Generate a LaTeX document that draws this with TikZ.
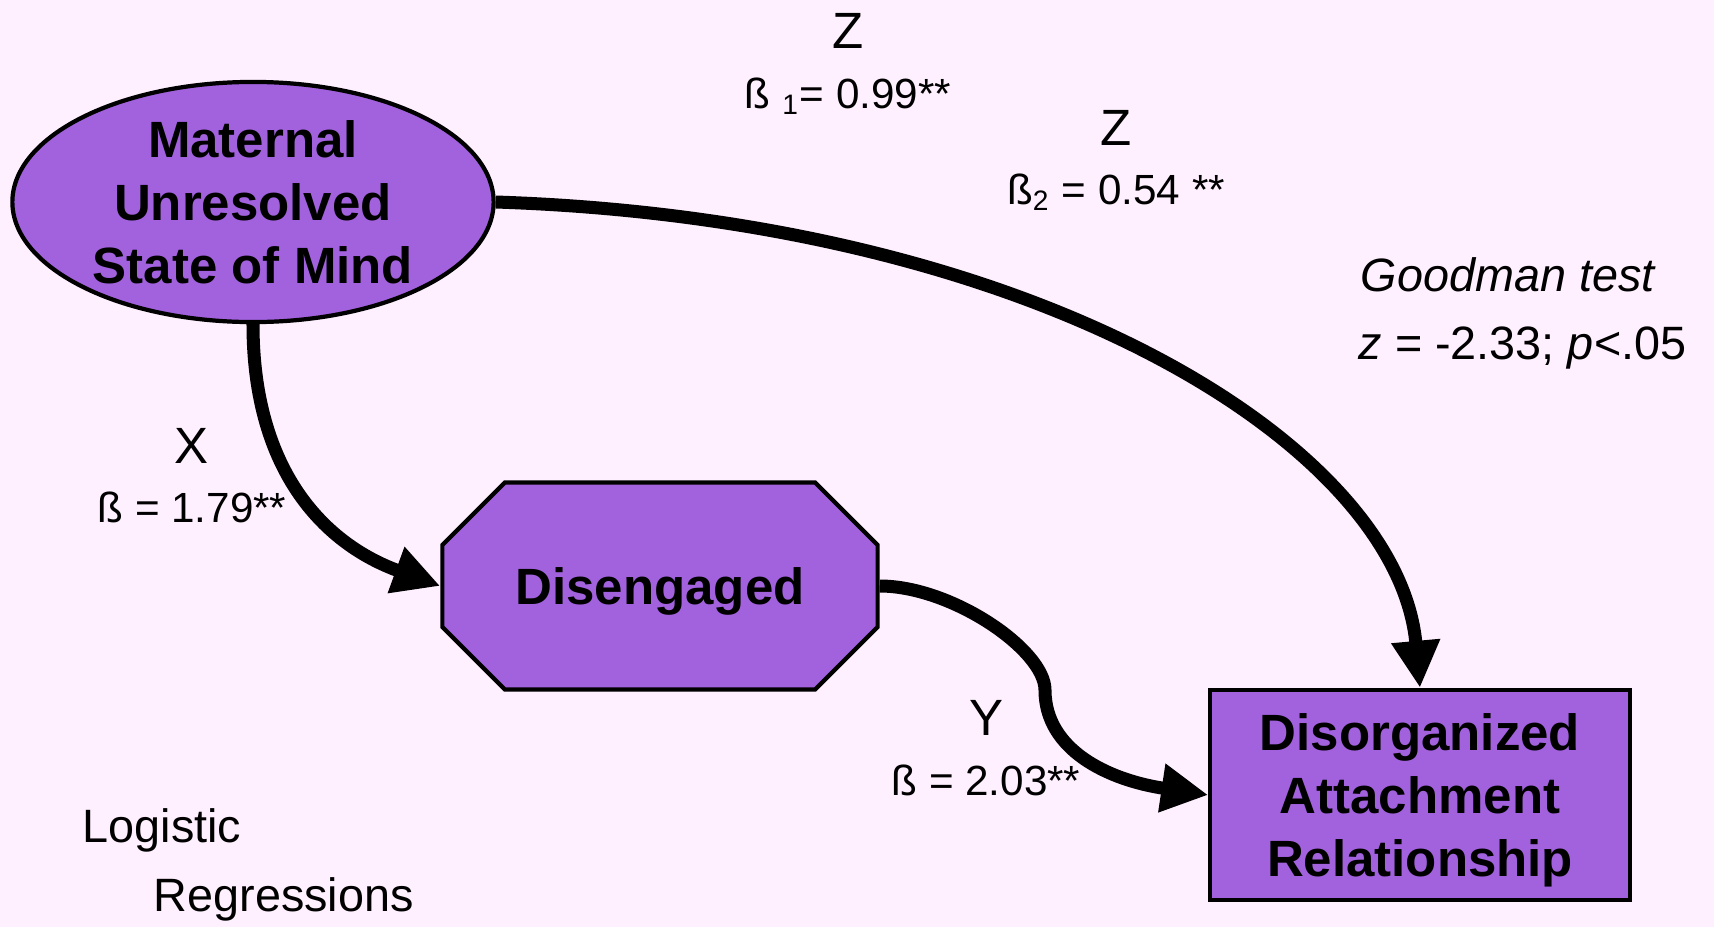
\documentclass[tikz,border=0pt]{standalone}
\usepackage{fontspec}
\setmainfont{Liberation Sans}
\usetikzlibrary{shapes.geometric,shapes.misc,arrows.meta}
\definecolor{bgpink}{HTML}{FEF0FE}
\definecolor{boxpurple}{HTML}{A262DE}

\begin{document}
\begin{tikzpicture}[x=0.01cm,y=-0.01cm,
box/.style={draw,line width=1.2pt,fill=boxpurple,inner sep=0pt,align=center,text depth=0pt,font=\bfseries\fontsize{14.5}{18}\selectfont},
oct/.style={box,chamfered rectangle,chamfered rectangle xsep=0.46cm,chamfered rectangle ysep=0.44cm,minimum width=4.35cm,minimum height=2.07cm},
arr/.style={line width=3.7pt,-{Triangle[length=4.7mm,width=4.6mm]}},
var/.style={inner sep=0pt,anchor=base,font=\fontsize{14.5}{17}\selectfont},
coef/.style={inner sep=0pt,anchor=base,font=\fontsize{12}{14}\selectfont},
note/.style={inner sep=0pt,anchor=base west,font=\fontsize{13.3}{16}\selectfont}]
\useasboundingbox (0,0) rectangle (1714,927);
\fill[bgpink] (0,0) rectangle (1714,927);
\node[box,ellipse,minimum width=4.81cm,minimum height=2.4cm] (mum) at (253,202) {Maternal\\Unresolved\\State of Mind};
\node[oct] (dis) at (660,586) {Disengaged};
\node[box,minimum width=4.19cm,minimum height=2.1cm] (att) at (1420,795) {Disorganized\\Attachment\\Relationship};
\coordinate (ybend) at (1045,690);
\draw[arr] (mum.south) .. controls +(0,150) and +(-113,-41) .. (dis.west);
\draw[arr] (mum.east) .. controls +(547,18) and +(-22,-240) .. (att.north);
\draw[arr] (dis.east) .. controls +(72,0) and +(0,-40) .. (ybend) .. controls +(0,60) and +(-100,-15) .. (att.west);
\node[var] (zlab1) at (848,48) {Z};
\node[coef] (zbeta1) at (848,108) {ß \textsubscript{1}= 0.99**};
\node[var] (zlab2) at (1116,145) {Z};
\node[coef] (zbeta2) at (1116,204) {ß\textsubscript{2} = 0.54 **};
\node[var] (xlab) at (192,463) {X};
\node[coef] (xbeta) at (192,522) {ß = 1.79**};
\node[var] (ylab) at (986,735) {Y};
\node[coef] (ybeta) at (986,795) {ß = 2.03**};
\node[note] (goodman) at (1360,291) {\itshape Goodman test};
\node[note] (goodz) at (1358,359) {\textit{z} = -2.33; \textit{p}<.05};
\node[note] (logit1) at (82,842) {Logistic};
\node[note] (logit2) at (153,911) {Regressions};
\end{tikzpicture}
\end{document}
